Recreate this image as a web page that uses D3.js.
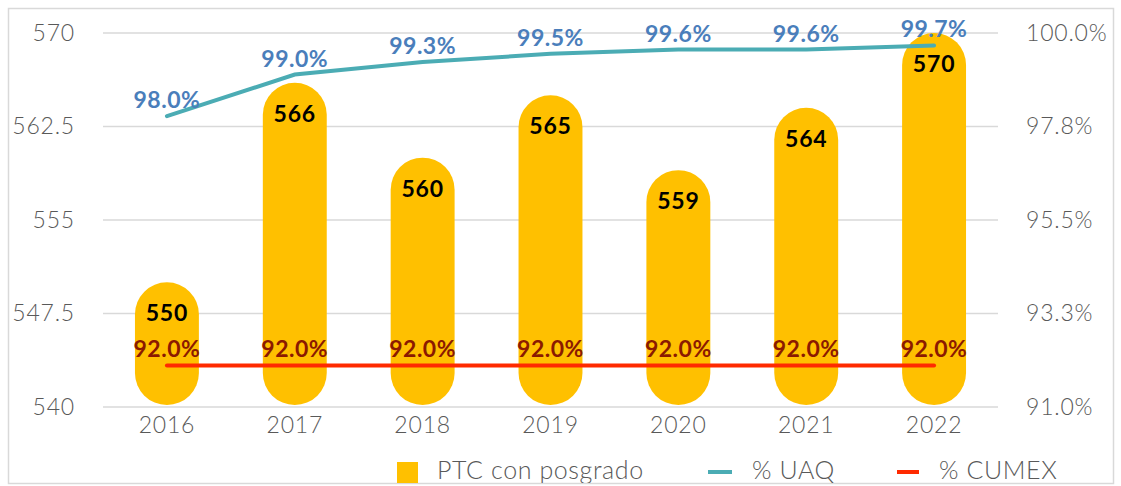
<!DOCTYPE html>
<html>
<head>
<meta charset="utf-8">
<script src="https://cdn.jsdelivr.net/npm/d3@7"></script>
<style>
  body { margin: 0; background: #fff; }
  svg text { font-family: "Lato", "Open Sans", sans-serif; }
</style>
</head>
<body>
<svg id="chart" width="1121" height="486"></svg>
<script>
const years = ['2016', '2017', '2018', '2019', '2020', '2021', '2022']
const ptc = [550, 566, 560, 565, 559, 564, 570]
const uaq = [0.980, 0.990, 0.993, 0.995, 0.996, 0.996, 0.997]
const cumex = [0.92, 0.92, 0.92, 0.92, 0.92, 0.92, 0.92]
const leftTicks = [540, 547.5, 555, 562.5, 570]
const rightTicks = [0.91, 0.9325, 0.955, 0.9775, 1.0]

const barColor = '#FFC000'
const uaqColor = '#4BACB4'
const cumexColor = '#FF2A00'
const axisText = '#595959'

const svg = d3.select('#chart')
const margin = {top: 33, right: 123, bottom: 79, left: 103}
const width = 1121, height = 486

// chart frame + clip (legend is cut by the frame at the bottom)
svg.append('defs').append('clipPath').attr('id', 'frame')
  .append('rect').attr('x', 9).attr('y', 9).attr('width', 1104).attr('height', 474)

svg.append('rect')
  .attr('x', 8.5).attr('y', 8.5)
  .attr('width', 1105).attr('height', 475)
  .attr('fill', '#fff')
  .attr('stroke', '#d9d9d9')
  .attr('stroke-width', 1.5)

const g = svg.append('g').attr('clip-path', 'url(#frame)')

const x = d3.scaleBand()
  .domain(years)
  .range([margin.left, width - margin.right])
  .paddingInner(0.5)
  .paddingOuter(0.25)

const y = d3.scaleLinear()
  .domain([540, 570])
  .range([height - margin.bottom, margin.top])

const y2 = d3.scaleLinear()
  .domain([0.91, 1.0])
  .range([height - margin.bottom, margin.top])

// gridlines
g.append('g')
  .selectAll('line')
  .data(leftTicks)
  .join('line')
  .attr('x1', margin.left)
  .attr('x2', width - margin.right)
  .attr('y1', d => y(d))
  .attr('y2', d => y(d))
  .attr('stroke', '#d9d9d9')
  .attr('stroke-width', 1.5)

function styleAxisText(sel) {
  sel.attr('fill', axisText)
    .style('font-size', '23px')
    .style('font-weight', 300)
    .style('letter-spacing', '0.8px')
}

// left axis
const yAxis = g.append('g')
  .attr('transform', `translate(${margin.left - 28},0)`)
  .call(d3.axisLeft(y).tickValues(leftTicks).tickSize(0).tickPadding(0).tickFormat(d => d))
yAxis.select('.domain').remove()
yAxis.selectAll('text').call(styleAxisText)

// right axis
const y2Axis = g.append('g')
  .attr('transform', `translate(${width - margin.right + 28},0)`)
  .call(d3.axisRight(y2).tickValues(rightTicks).tickSize(0).tickPadding(0).tickFormat(d3.format('.1%')))
y2Axis.select('.domain').remove()
y2Axis.selectAll('text').call(styleAxisText)

// x axis
const xAxis = g.append('g')
  .attr('transform', `translate(0,${height - margin.bottom})`)
  .call(d3.axisBottom(x).tickSize(0).tickPadding(10))
xAxis.select('.domain').remove()
xAxis.selectAll('text').call(styleAxisText)

// pill bars
const bw = x.bandwidth()
g.append('g')
  .selectAll('rect')
  .data(years)
  .join('rect')
  .attr('x', d => x(d))
  .attr('y', (d, i) => y(ptc[i]))
  .attr('width', bw)
  .attr('height', (d, i) => y(540) - 2 - y(ptc[i]))
  .attr('rx', bw / 2)
  .attr('fill', barColor)

g.append('g')
  .selectAll('text')
  .data(years)
  .join('text')
  .attr('x', d => x(d) + bw / 2)
  .attr('y', (d, i) => y(ptc[i]) + 39)
  .attr('text-anchor', 'middle')
  .style('font-size', '23px')
  .style('font-weight', 700)
  .style('letter-spacing', '0.8px')
  .attr('fill', '#000')
  .text((d, i) => ptc[i])

// lines
const line = d3.line()
  .x(d => x(d[0]) + bw / 2)
  .y(d => y2(d[1]))

g.append('path')
  .datum(d3.zip(years, cumex))
  .attr('d', line)
  .attr('fill', 'none')
  .attr('stroke', cumexColor)
  .attr('stroke-width', 4)
  .attr('stroke-linecap', 'round')

g.append('path')
  .datum(d3.zip(years, uaq))
  .attr('d', line)
  .attr('fill', 'none')
  .attr('stroke', uaqColor)
  .attr('stroke-width', 4)
  .attr('stroke-linecap', 'round')

// line labels
g.append('g')
  .selectAll('text')
  .data(years)
  .join('text')
  .attr('x', d => x(d) + bw / 2)
  .attr('y', (d, i) => y2(uaq[i]) - 8)
  .attr('text-anchor', 'middle')
  .style('font-size', '23px')
  .style('font-weight', 700)
  .style('letter-spacing', '0.5px')
  .attr('fill', '#4A7EBB')
  .text((d, i) => d3.format('.1%')(uaq[i]))

g.append('g')
  .selectAll('text')
  .data(years)
  .join('text')
  .attr('x', d => x(d) + bw / 2)
  .attr('y', (d, i) => y2(cumex[i]) - 8)
  .attr('text-anchor', 'middle')
  .style('font-size', '23px')
  .style('font-weight', 700)
  .style('letter-spacing', '0.5px')
  .attr('fill', '#8B1A00')
  .text((d, i) => d3.format('.1%')(cumex[i]))

// legend
const legend = g.append('g').attr('transform', 'translate(0,472)')
legend.append('rect')
  .attr('x', 397).attr('y', -10)
  .attr('width', 21).attr('height', 21)
  .attr('fill', barColor)
legend.append('text')
  .attr('x', 437).attr('y', 7)
  .attr('fill', axisText)
  .style('font-size', '25px')
  .style('font-weight', 300)
  .style('letter-spacing', '0.6px')
  .text('PTC con posgrado')

legend.append('line')
  .attr('x1', 708).attr('x2', 732)
  .attr('y1', 0).attr('y2', 0)
  .attr('stroke', uaqColor).attr('stroke-width', 4)
legend.append('text')
  .attr('x', 752).attr('y', 7)
  .attr('fill', axisText)
  .style('font-size', '25px')
  .style('font-weight', 300)
  .style('letter-spacing', '0.6px')
  .text('% UAQ')

legend.append('line')
  .attr('x1', 897).attr('x2', 919)
  .attr('y1', 0).attr('y2', 0)
  .attr('stroke', cumexColor).attr('stroke-width', 4)
legend.append('text')
  .attr('x', 939).attr('y', 7)
  .attr('fill', axisText)
  .style('font-size', '25px')
  .style('font-weight', 300)
  .style('letter-spacing', '0.6px')
  .text('% CUMEX')
</script>
</body>
</html>
